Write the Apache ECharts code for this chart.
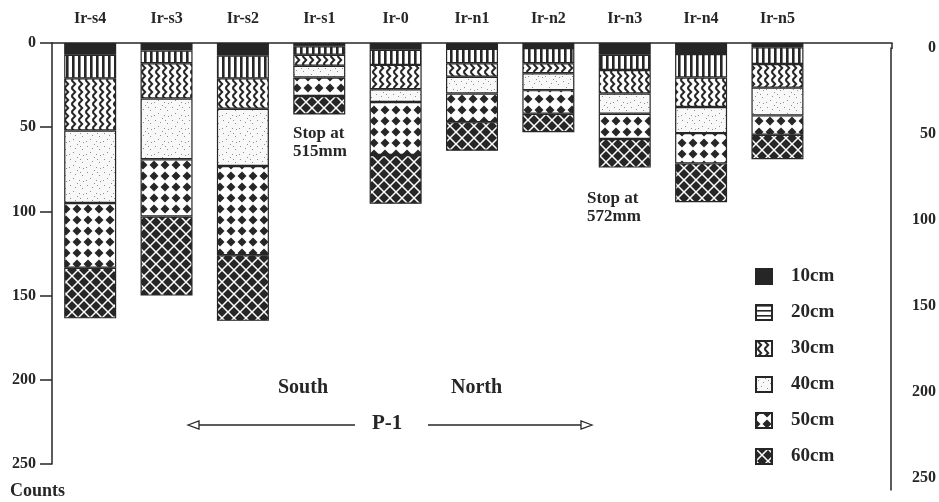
<!DOCTYPE html>
<html>
<head>
<meta charset="utf-8">
<script src="https://cdn.jsdelivr.net/npm/echarts@6/dist/echarts.min.js"></script>
<style>
  html, body { margin: 0; padding: 0; background: #fff; }
  #chart { width: 939px; height: 502px; }
</style>
</head>
<body>
<div id="chart"></div>
<script>
// Core names along profile P-1 (south to north); last slot is an empty tick
const cores = ['Ir-s4', 'Ir-s3', 'Ir-s2', 'Ir-s1', 'Ir-0', 'Ir-n1', 'Ir-n2', 'Ir-n3', 'Ir-n4', 'Ir-n5', ''];
const layers = ['10cm', '20cm', '30cm', '40cm', '50cm', '60cm'];

// Counts in each 10 cm slice, one entry per core
const c10 = [7, 4.5, 7.5, 2, 4, 3.5, 3, 7, 6.5, 2.5];
const c20 = [14, 7.5, 13.5, 5, 9, 8.5, 9, 9, 14, 10];
const c30 = [31, 21, 18, 6.5, 14.5, 8, 6, 14, 17.5, 14];
const c40 = [43, 36, 34, 7, 7.5, 10, 10, 12, 15.5, 16.5];
const c50 = [38.5, 34, 53, 11, 31.5, 17, 14, 15, 18, 11.5];
const c60 = [30, 47, 39, 11, 29, 17, 11, 17, 23, 14.5];

// Count axis ticks
const countTicks = [0, 50, 100, 150, 200, 250];

const INK = '#262626';
const SERIF = '"Liberation Serif", "DejaVu Serif", serif';

// Small repeating canvas tiles used as hatch fills
function tile(w, h, draw) {
  const c = document.createElement('canvas');
  c.width = w; c.height = h;
  const g = c.getContext('2d');
  draw(g, w, h);
  return { image: c, repeat: 'repeat' };
}

const fillSolid = INK;

const fillStripes = tile(6, 4, g => {
  g.fillStyle = '#fff'; g.fillRect(0, 0, 6, 4);
  g.fillStyle = INK; g.fillRect(0, 0, 2.6, 4);
});

const fillHStripes = tile(4, 5, g => {
  g.fillStyle = '#fff'; g.fillRect(0, 0, 4, 5);
  g.fillStyle = INK; g.fillRect(0, 0, 4, 1.6);
});

const fillZigzag = tile(7, 8, g => {
  g.fillStyle = '#fff'; g.fillRect(0, 0, 7, 8);
  g.strokeStyle = INK; g.lineWidth = 2; g.lineJoin = 'miter';
  for (const dx of [-7, 0, 7]) {
    for (const dy of [-8, 0, 8]) {
      g.beginPath();
      g.moveTo(dx + 1.5, dy);
      g.lineTo(dx + 5.2, dy + 4);
      g.lineTo(dx + 1.5, dy + 8);
      g.stroke();
    }
  }
});

const fillStipple = tile(17, 13, g => {
  g.fillStyle = '#f8f8f8'; g.fillRect(0, 0, 17, 13);
  g.fillStyle = '#8f8f8f';
  const dots = [[2, 3], [9, 1], [14, 6], [5, 9], [11, 11], [7, 5], [15, 12], [1, 11], [12, 3]];
  for (const [x, y] of dots) g.fillRect(x, y, 1, 1);
});

// black diamonds on a white ground, one per tile corner
const fillDiamonds = tile(11, 11, g => {
  g.fillStyle = '#fff'; g.fillRect(0, 0, 11, 11);
  g.fillStyle = INK;
  const r = 4.5;
  for (const [cx, cy] of [[0, 0], [11, 0], [0, 11], [11, 11]]) {
    g.beginPath();
    g.moveTo(cx, cy - r); g.lineTo(cx + r, cy); g.lineTo(cx, cy + r); g.lineTo(cx - r, cy);
    g.closePath(); g.fill();
  }
});

const fillCross = tile(12, 12, g => {
  g.fillStyle = INK; g.fillRect(0, 0, 12, 12);
  g.strokeStyle = '#fff'; g.lineWidth = 1.5;
  for (const k of [-12, 0, 12]) {
    g.beginPath();
    g.moveTo(k, 0); g.lineTo(k + 12, 12);
    g.moveTo(k + 12, 0); g.lineTo(k, 12);
    g.stroke();
  }
});

const slices = [c10, c20, c30, c40, c50, c60];
const fills = [fillSolid, fillStripes, fillZigzag, fillStipple, fillDiamonds, fillCross];

const chart = echarts.init(document.getElementById('chart'), null, { renderer: 'canvas' });

const labelFont = { fontFamily: SERIF, fontWeight: 'bold', color: INK };
const axisInk = { color: INK, width: 1.5 };

chart.setOption({
  animation: false,
  backgroundColor: '#fff',
  grid: [
    { left: 52, right: 47, top: 43, bottom: 38 },
    { left: 52, right: 47, top: 48, bottom: 12 }
  ],
  xAxis: [
    {
      type: 'category', gridIndex: 0, position: 'top', data: cores,
      axisLine: { lineStyle: axisInk },
      axisTick: { alignWithLabel: true, interval: 0, length: 7, lineStyle: axisInk },
      axisLabel: Object.assign({ interval: 0, margin: 16, fontSize: 16 }, labelFont)
    },
    { type: 'category', gridIndex: 1, data: cores, show: false }
  ],
  yAxis: [
    {
      type: 'value', gridIndex: 0, inverse: true,
      min: countTicks[0], max: countTicks[countTicks.length - 1], interval: countTicks[1] - countTicks[0],
      axisLine: { show: true, lineStyle: axisInk },
      axisTick: { show: true, length: 12, lineStyle: axisInk },
      splitLine: { show: false },
      axisLabel: Object.assign({ margin: 16, fontSize: 16 }, labelFont)
    },
    {
      type: 'value', gridIndex: 1, position: 'right', inverse: true,
      min: countTicks[0], max: 257, interval: countTicks[1] - countTicks[0],
      axisLine: { show: true, lineStyle: axisInk },
      axisTick: { show: false },
      splitLine: { show: false },
      axisLabel: Object.assign({
        margin: 45, align: 'right', fontSize: 16,
        formatter: v => (countTicks.indexOf(v) >= 0 ? String(v) : '')
      }, labelFont)
    }
  ],
  legend: {
    orient: 'vertical', left: 755, top: 267, padding: 0,
    itemWidth: 16, itemHeight: 15, itemGap: 17,
    selectedMode: false,
    icon: 'rect',
    textStyle: Object.assign({ fontSize: 19, padding: [0, 0, 0, 14] }, labelFont),
    data: layers.map((name, i) => i === 1
      ? { name, itemStyle: { color: fillHStripes } }
      : { name })
  },
  series: layers.map((name, i) => ({
    type: 'bar', name, stack: 'core',
    xAxisIndex: 0, yAxisIndex: 0,
    barWidth: 52,
    data: slices[i],
    itemStyle: { color: fills[i], borderColor: INK, borderWidth: 1.2 },
    emphasis: { disabled: true }
  })),
  graphic: [
    { type: 'line', shape: { x1: 892, y1: 43, x2: 892, y2: 49 }, style: { stroke: INK, lineWidth: 1.5 } },
    { type: 'text', left: 10, top: 482, style: { text: 'Counts', font: 'bold 18px ' + SERIF, fill: INK } },
    { type: 'text', x: 293, y: 125, style: { text: 'Stop at\n515mm', font: 'bold 17px ' + SERIF, fill: INK, lineHeight: 18 } },
    { type: 'text', x: 587, y: 190, style: { text: 'Stop at\n572mm', font: 'bold 17px ' + SERIF, fill: INK, lineHeight: 18 } },
    { type: 'text', x: 278, y: 378, style: { text: 'South', font: 'bold 20px ' + SERIF, fill: INK } },
    { type: 'text', x: 451, y: 378, style: { text: 'North', font: 'bold 20px ' + SERIF, fill: INK } },
    { type: 'text', x: 372, y: 413, style: { text: 'P-1', font: 'bold 21px ' + SERIF, fill: INK } },
    { type: 'line', shape: { x1: 199, y1: 425, x2: 355, y2: 425 }, style: { stroke: INK, lineWidth: 1.3 } },
    { type: 'polygon', shape: { points: [[188, 425], [199, 421], [199, 429]] }, style: { fill: '#fff', stroke: INK, lineWidth: 1.3 } },
    { type: 'line', shape: { x1: 428, y1: 425, x2: 581, y2: 425 }, style: { stroke: INK, lineWidth: 1.3 } },
    { type: 'polygon', shape: { points: [[592, 425], [581, 421], [581, 429]] }, style: { fill: '#fff', stroke: INK, lineWidth: 1.3 } }
  ]
});
</script>
</body>
</html>
